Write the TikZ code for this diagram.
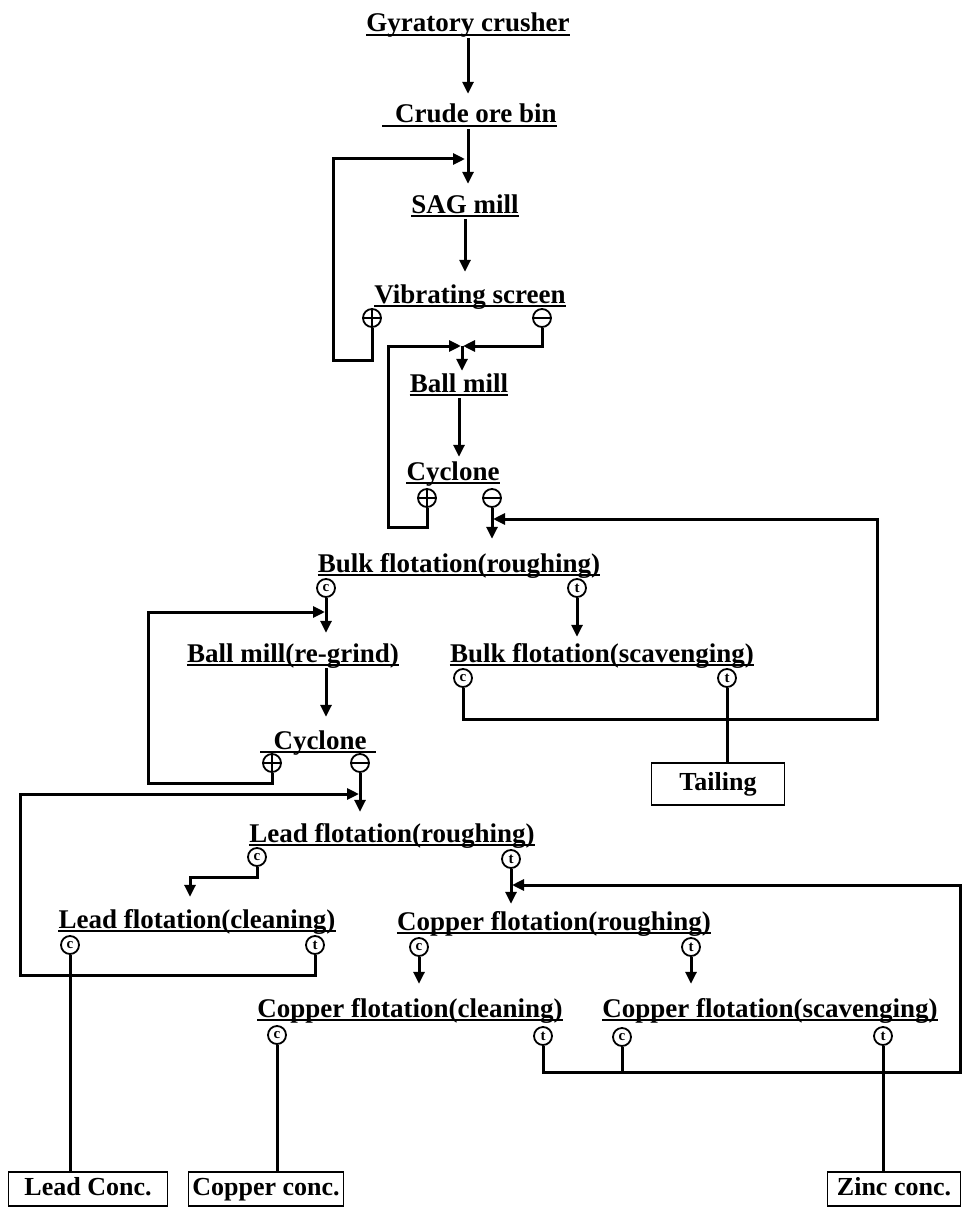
\documentclass[tikz,border=0pt]{standalone}
\usepackage{fontspec}
\setmainfont{Liberation Serif}
\usetikzlibrary{arrows.meta}
\newcommand\ttlfont{\fontsize{27}{30}\selectfont\bfseries}
\newcommand\outfont{\fontsize{26}{30}\selectfont\bfseries}
\newcommand\symfont{\fontsize{15}{15}\selectfont\bfseries}
\begin{document}
\begin{tikzpicture}[x=1pt,y=-1pt,
 ttl/.style={font=\ttlfont, inner sep=0pt, text height=18pt, text depth=6pt, anchor=base},
 sym/.style={circle, draw, line width=1.8pt, minimum size=18pt, inner sep=0pt, font=\symfont},
 symplus/.style={sym, path picture={
   \draw[line width=1.5pt] (path picture bounding box.west) -- (path picture bounding box.east);
   \draw[line width=1.5pt] (path picture bounding box.north) -- (path picture bounding box.south);}},
 symminus/.style={sym, path picture={
   \draw[line width=1.5pt] (path picture bounding box.west) -- (path picture bounding box.east);}},
 outbox/.style={draw, line width=1.8pt, font=\outfont, minimum height=34pt, inner sep=0pt, text height=18pt, text depth=6pt},
 ln/.style={line width=3pt},
 arr/.style={ln, -{Triangle[length=12pt,width=11pt]}, shorten >=11pt},
 joinarr/.style={ln, -{Triangle[length=12pt,width=11pt]}, shorten >=1pt},
 ul/.style={line width=1.6pt}]
\fill[white] (0,0) rectangle (963,1209);
\useasboundingbox (0,0) rectangle (963,1209);

% process steps
\node[ttl] (gc)  at (468,32)   {Gyratory crusher};
\node[ttl] (cob) at (476,123)  {Crude ore bin};
\node[ttl] (sag) at (465,213)  {SAG mill};
\node[ttl] (vib) at (470,303)  {Vibrating screen};
\node[ttl] (bm)  at (459,392)  {Ball mill};
\node[ttl] (cy)  at (453,480)  {Cyclone};
\node[ttl] (br)  at (459,572)  {Bulk flotation(roughing)};
\node[ttl] (rg)  at (293,662)  {Ball mill(re-grind)};
\node[ttl] (bs)  at (602,662)  {Bulk flotation(scavenging)};
\node[ttl] (c2)  at (320,749)  {Cyclone};
\node[ttl] (lr)  at (392,842)  {Lead flotation(roughing)};
\node[ttl] (lc)  at (197,928)  {Lead flotation(cleaning)};
\node[ttl] (cr)  at (554,930)  {Copper flotation(roughing)};
\node[ttl] (cc)  at (410,1017) {Copper flotation(cleaning)};
\node[ttl] (cs)  at (770,1017) {Copper flotation(scavenging)};

% underlines
\foreach \n in {gc,sag,vib,bm,cy,br,rg,bs,lr,lc,cr,cc,cs}
  \draw[ul] ([yshift=-3pt]\n.base west) -- ([yshift=-3pt]\n.base east);
\draw[ul] ([xshift=-13pt,yshift=-3pt]cob.base west) -- ([yshift=-3pt]cob.base east);
\draw[ul] ([xshift=-13pt,yshift=-3pt]c2.base west) -- ([xshift=9pt,yshift=-3pt]c2.base east);

% stream symbols
\node[symplus]  (vsp) at (372,318)  {};
\node[symminus] (vsm) at (542,318)  {};
\node[symplus]  (cyp) at (427,498)  {};
\node[symminus] (cym) at (492,498)  {};
\node[sym] (brc) at (326,588)  {c};
\node[sym] (brt) at (577,588)  {t};
\node[sym] (bsc) at (463,678)  {c};
\node[sym] (bst) at (727,678)  {t};
\node[symplus]  (c2p) at (272,763)  {};
\node[symminus] (c2m) at (360,763)  {};
\node[sym] (lrc) at (257,857)  {c};
\node[sym] (lrt) at (511,859)  {t};
\node[sym] (lcc) at (70,945)   {c};
\node[sym] (lct) at (315,945)  {t};
\node[sym] (crc) at (419,947)  {c};
\node[sym] (crt) at (691,947)  {t};
\node[sym] (ccc) at (277,1035) {c};
\node[sym] (cct) at (543,1036) {t};
\node[sym] (csc) at (622,1037) {c};
\node[sym] (cst) at (883,1036) {t};

% product boxes
\node[outbox, minimum width=133pt, minimum height=42pt] (tail) at (718,784) {Tailing};
\node[outbox, minimum width=159pt] (lead) at (88,1189)  {Lead Conc.};
\node[outbox, minimum width=155pt] (cu)   at (266,1189) {Copper conc.};
\node[outbox, minimum width=133pt] (zn)   at (894,1189) {Zinc conc.};

% bend points
\coordinate (r1a) at (333,360);
\coordinate (r1b) at (333,159);
\coordinate (j2)  at (462,346);
\coordinate (r2a) at (388,527);
\coordinate (r3)  at (877,719);
\coordinate (j3)  at (877,519);
\coordinate (r4a) at (148,783);
\coordinate (j4)  at (148,612);
\coordinate (b1)  at (190,877);
\coordinate (r5a) at (20,975);
\coordinate (j5)  at (20,794);
\coordinate (r6)  at (960,1072);
\coordinate (j6)  at (960,885);

% main flow
\draw[arr] (gc.south) -- (gc.south |- cob.north);
\draw[arr] (gc.south |- cob.south) -- (gc.south |- sag.north);
\draw[joinarr] (vsp.south) |- (r1a) -- (r1b) -- ([xshift=-2pt]r1b -| gc.south);
\draw[arr, shorten >=13pt] (sag.south) -- (sag.south |- vib.north);
\draw[joinarr] (vsm.south) |- (j2);
\draw[joinarr] (cyp.south) |- (r2a) |- (j2);
\draw[arr, shorten >=3pt] (j2) -- (j2 |- bm.north);
\draw[arr, shorten >=5pt] (bm.south) -- (bm.south |- cy.north);
\draw[arr, shorten >=15pt] (cym.south) -- (cym.south |- br.north);
\draw[joinarr] (bsc.south) |- (r3) -- (j3) -- (j3 -| cym.south);
\draw[arr, shorten >=11pt] (brc.south) -- (brc.south |- rg.north);
\draw[arr, shorten >=7pt] (brt.south) -- (brt.south |- bs.north);
\draw[arr, shorten >=14pt] (brc.south |- rg.south) -- (brc.south |- c2.north);
\draw[joinarr] (c2p.south) |- (r4a) -- (j4) -- (j4 -| brc.south);
\draw[ln] (bst.south) -- (bst.south |- tail.north);
\draw[arr, shorten >=12pt] (c2m.south) -- (c2m.south |- lr.north);
\draw[arr, shorten >=13pt] (lrc.south) |- (b1) -- (b1 |- lc.north);
\draw[arr, shorten >=8pt] (lrt.south) -- (lrt.south |- cr.north);
\draw[joinarr] (lct.south) |- (r5a) -- (j5) -- (j5 -| c2m.south);
\draw[arr, shorten >=15pt] (crc.south) -- (crc.south |- cc.north);
\draw[arr, shorten >=15pt] (crt.south) -- (crt.south |- cs.north);
\draw[joinarr] (cct.south) |- (r6) -- (j6) -- (j6 -| lrt.south);
\draw[ln] (csc.south) -- (csc.south |- r6);
\draw[ln] (lcc.south) -- (lcc.south |- lead.north);
\draw[ln] (ccc.south) -- (ccc.south |- cu.north);
\draw[ln] (cst.south) -- (cst.south |- zn.north);
\end{tikzpicture}
\end{document}
